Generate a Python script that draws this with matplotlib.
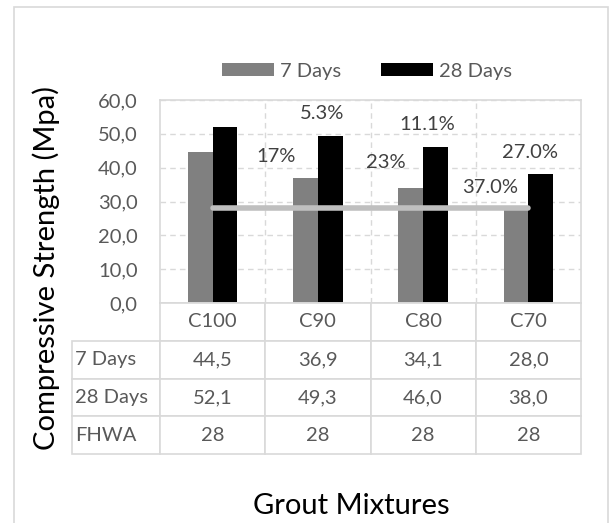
import matplotlib
matplotlib.use('Agg')
import matplotlib.pyplot as plt
from matplotlib.table import Table
from matplotlib.patches import Rectangle, Patch
import numpy as np

# ---------------- data ----------------
categories = ['C100', 'C90', 'C80', 'C70']
days7 = [44.5, 36.9, 34.1, 28.0]
days28 = [52.1, 49.3, 46.0, 38.0]
fhwa = [28, 28, 28, 28]
series_names = ['7 Days', '28 Days', 'FHWA']
yticks = [0, 10, 20, 30, 40, 50, 60]
pct_labels = ['17%', '5.3%', '23%', '11.1%', '37.0%', '27.0%']
# annotation anchor points (data coordinates)
pct_x = [0.60, 1.04, 1.65, 2.04, 2.64, 3.02]
pct_y = [43.2, 56.1, 41.4, 52.9, 34.0, 44.6]

# ---------------- style ----------------
W, H = 609, 523
FONT = ['Lato', 'DejaVu Sans']
plt.rcParams['font.family'] = FONT
GRID = '#d9d9d9'
TXT = '#595959'
FS = 14.5

fig = plt.figure(figsize=(W / 100, H / 100), dpi=100)


def box(l, t, r, b):
    return [l / W, 1 - b / H, (r - l) / W, (b - t) / H]


# outer chart border
fig.add_artist(Rectangle((14 / W, -0.05), (608 - 14) / W, 1 - 7 / H + 0.05,
                         transform=fig.transFigure, fill=False,
                         edgecolor=GRID, lw=1.2))

PL, PR, PT, PB = 160, 581, 100, 303
ax = fig.add_axes(box(PL, PT, PR, PB))
x = np.arange(len(categories))
w = 0.236
ax.bar(x - w / 2, days7, w, color='#808080', zorder=2, label=series_names[0])
ax.bar(x + w / 2, days28, w, color='#000000', zorder=2, label=series_names[1])
ax.plot(x, fhwa, color='#bfbfbf', lw=4, solid_capstyle='round', zorder=3)
ax.set_xlim(-0.5, len(categories) - 0.5)
ax.set_ylim(yticks[0], yticks[-1])
ax.set_yticks(yticks)
ax.set_yticklabels([f'{v:.1f}'.replace('.', ',') for v in yticks])
ax.tick_params(axis='y', length=0, pad=16, labelsize=FS, labelcolor=TXT)
ax.set_xticks([])
ax.yaxis.grid(True, ls=(0, (4, 3)), color=GRID, lw=1, zorder=0)
ax.vlines(x[:-1] + 0.5, yticks[0], yticks[-1], colors=GRID,
          linestyles=(0, (4, 3)), lw=1, zorder=0)
ax.set_axisbelow(True)
for s in ax.spines.values():
    s.set_color(GRID)
    s.set_linewidth(1.2)

for t, px, py in zip(pct_labels, pct_x, pct_y):
    ax.text(px, py, t, ha='center', va='center', fontsize=FS, color='#404040')

# data table (bbox covers the data grid; row labels extend to the left)
tax = fig.add_axes(box(PL, PB, PR, 454))
tax.axis('off')
tab = Table(tax, bbox=[0, 0, 1, 1])
col_w = 1 / len(categories)
lab_w = (PL - 72) / (PR - PL)
rows = [
    (series_names[0], [f'{v:.1f}'.replace('.', ',') for v in days7]),
    (series_names[1], [f'{v:.1f}'.replace('.', ',') for v in days28]),
    (series_names[2], [f'{v:d}' for v in fhwa]),
]
rh = 1 / (len(rows) + 1)
for j, c in enumerate(categories):
    tab.add_cell(0, j, width=col_w, height=rh, text=c, loc='center')
for i, (name, vals) in enumerate(rows, start=1):
    cell = tab.add_cell(i, -1, width=lab_w, height=rh, text=name, loc='left')
    cell.PAD = 0.03
    for j, v in enumerate(vals):
        tab.add_cell(i, j, width=col_w, height=rh, text=v, loc='center')
tab.auto_set_font_size(False)
tab.set_fontsize(FS)
for cell in tab.get_celld().values():
    cell.set_edgecolor(GRID)
    cell.set_linewidth(1.2)
    cell.get_text().set_color(TXT)
tax.add_table(tab)

# legend
handles = [Patch(facecolor='#808080'), Patch(facecolor='#000000')]
fig.legend(handles, series_names[:2], loc='center',
           bbox_to_anchor=(367 / W, 1 - 71 / H), ncol=2, frameon=False,
           fontsize=FS, labelcolor=TXT, handlelength=2.55, handleheight=0.65,
           handletextpad=0.3, columnspacing=2.0)

fig.text(46 / W, 1 - 268 / H, 'Compressive Strength (Mpa)', rotation=90,
         ha='center', va='center', fontsize=21, color='#000000')
fig.text(351 / W, 1 - 506 / H, 'Grout Mixtures', ha='center', va='center',
         fontsize=21, color='#000000')

fig.savefig('out.png', dpi=100)
